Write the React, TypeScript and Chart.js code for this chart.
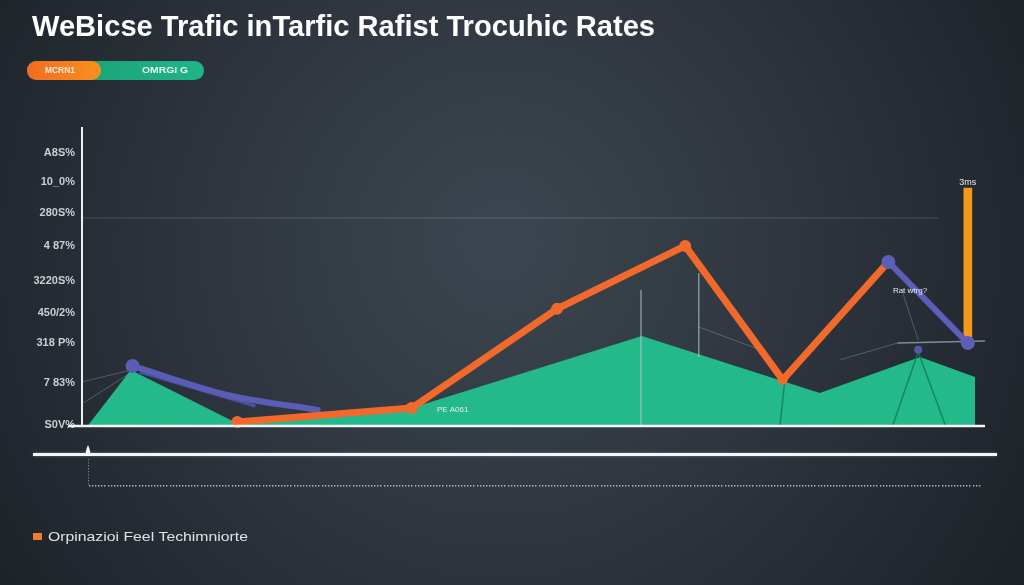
import { useEffect, useRef } from "react";
import { Chart, registerables } from "chart.js";

Chart.register(...registerables);

// ---------- data ----------
const titleText = "WeBicse Trafic inTarfic Rafist Trocuhic Rates";
const pillLabels = ["MCRN1", "OMRGI G"];
const legendText = "Orpinazioi Feel Techimniorte";

const yTickValues = [91.6, 81.8, 71.4, 60.3, 48.5, 37.7, 27.6, 14.1, 0];
const yTickLabels = ["A8S%", "10_0%", "280S%", "4 87%", "3220S%", "450/2%", "318 P%", "7 83%", "S0V%"];
const gridValue = 69.7;

const greenX = [0.7, 5.4, 16.9, 36.5, 62.0, 81.7, 92.8, 98.9, 98.9];
const greenY = [0, 18.5, 1.0, 5.7, 30.0, 10.8, 22.9, 16.2, 0];

const orangeX = [17.2, 36.5, 52.6, 66.8, 77.6, 89.3];
const orangeY = [1.0, 5.7, 39.1, 60.3, 15.2, 54.9];

const purpleAX = [5.6, 16.1, 26.1];
const purpleAY = [19.9, 10.1, 5.1];
const purpleA2X = [6.4, 19.2];
const purpleA2Y = [17.8, 6.4];

const purpleBX = [89.3, 98.1];
const purpleBY = [54.9, 27.6];

const barX = 98.1;
const barRange: [number, number] = [27.6, 79.8];
const barLabel = "3ms";

const dotX = 92.6;
const dotY = 25.3;

// light guide segments: [x1, y1, x2, y2]
const lightGuides = [
  [61.9, 45.5, 61.9, 0],
  [68.3, 51.2, 68.3, 22.9],
  [90.3, 27.6, 100, 28.3],
];
const faintGuides = [
  [0, 14.5, 5.4, 18.5],
  [0, 7.1, 5.2, 17.2],
  [90.9, 44.4, 92.6, 28.6],
  [68.3, 33.0, 75.1, 25.3],
  [84.0, 22.0, 90.3, 27.6],
];
const greenGuides = [
  [92.6, 24.6, 89.8, 0],
  [92.6, 24.6, 95.6, 0],
  [77.8, 14.0, 77.3, 0],
];

const annotations = [
  { x: 39.3, y: 5.05, text: "PE A061" },
  { x: 89.8, y: 45.1, text: "Rat wtrg?" },
];

// ---------- helpers ----------
const pts = (xs: number[], ys: number[]) => xs.map((x, i) => ({ x, y: ys[i] }));
const segs = (list: number[][]) => {
  const out: any[] = [];
  list.forEach((s, i) => {
    if (i > 0) out.push({ x: s[0], y: null });
    out.push({ x: s[0], y: s[1] });
    out.push({ x: s[2], y: s[3] });
  });
  return out;
};

function roundRect(ctx: CanvasRenderingContext2D, x: number, y: number, w: number, h: number, r: number) {
  ctx.beginPath();
  ctx.moveTo(x + r, y);
  ctx.lineTo(x + w - r, y);
  ctx.arc(x + w - r, y + r, r, -Math.PI / 2, Math.PI / 2);
  ctx.lineTo(x + r, y + h);
  ctx.arc(x + r, y + r, r, Math.PI / 2, (3 * Math.PI) / 2);
  ctx.closePath();
}

function fitText(ctx: CanvasRenderingContext2D, text: string, x: number, y: number, w: number) {
  const m = ctx.measureText(text).width;
  ctx.save();
  ctx.translate(x, y);
  ctx.scale(w / m, 1);
  ctx.fillText(text, 0, 0);
  ctx.restore();
}

const decor = {
  id: "decor",
  beforeDraw(chart: any) {
    const { ctx, width, height } = chart;
    ctx.save();
    const g = ctx.createRadialGradient(500, 240, 20, 500, 260, 640);
    g.addColorStop(0, "#3c454f");
    g.addColorStop(0.45, "#2e353e");
    g.addColorStop(1, "#1b2026");
    ctx.fillStyle = g;
    ctx.fillRect(0, 0, width, height);

    // title
    ctx.fillStyle = "#ffffff";
    ctx.font = "bold 29px 'Liberation Sans', Arial, sans-serif";
    ctx.textBaseline = "alphabetic";
    fitText(ctx, titleText, 32, 36, 623);

    // pills
    const gg = ctx.createLinearGradient(90, 0, 204, 0);
    gg.addColorStop(0, "#1aa57a");
    gg.addColorStop(1, "#21b487");
    ctx.fillStyle = gg;
    roundRect(ctx, 27, 61, 177, 19, 9.5);
    ctx.fill();
    const og = ctx.createLinearGradient(27, 0, 100, 0);
    og.addColorStop(0, "#f36b22");
    og.addColorStop(1, "#f8901c");
    ctx.fillStyle = og;
    roundRect(ctx, 27, 61, 74, 19, 9.5);
    ctx.fill();
    ctx.fillStyle = "#fbe9dc";
    ctx.font = "bold 9px 'Liberation Sans', Arial, sans-serif";
    ctx.textBaseline = "middle";
    fitText(ctx, pillLabels[0], 45, 71, 30);
    ctx.fillStyle = "#e8f7f1";
    fitText(ctx, pillLabels[1], 142, 71, 46);

    // grid line
    const ys = chart.scales.y;
    const gy = ys.getPixelForValue(gridValue);
    ctx.strokeStyle = "rgba(200,210,220,0.22)";
    ctx.lineWidth = 1;
    ctx.beginPath();
    ctx.moveTo(chart.chartArea.left, gy);
    ctx.lineTo(938, gy);
    ctx.stroke();
    ctx.restore();
  },
  afterDraw(chart: any) {
    const { ctx } = chart;
    const xs = chart.scales.x;
    const ys = chart.scales.y;
    ctx.save();
    // x axis line
    ctx.strokeStyle = "#f2f4f6";
    ctx.lineWidth = 2.5;
    ctx.beginPath();
    ctx.moveTo(68, 426);
    ctx.lineTo(985, 426);
    ctx.stroke();

    // lower line
    ctx.shadowColor = "rgba(255,255,255,0.35)";
    ctx.shadowBlur = 3;
    ctx.strokeStyle = "#f4f6f8";
    ctx.lineWidth = 3;
    ctx.beginPath();
    ctx.moveTo(33, 454.5);
    ctx.lineTo(997, 454.5);
    ctx.stroke();
    ctx.shadowBlur = 0;
    ctx.fillStyle = "#ffffff";
    ctx.beginPath();
    ctx.moveTo(88, 445);
    ctx.quadraticCurveTo(91, 452, 90.5, 456);
    ctx.lineTo(85.5, 456);
    ctx.quadraticCurveTo(85, 452, 88, 445);
    ctx.fill();

    // dotted lines
    ctx.fillStyle = "rgba(215,220,225,0.75)";
    for (let x = 89; x <= 980; x += 3.1) ctx.fillRect(Math.round(x), 485, 1.4, 1.6);
    ctx.fillStyle = "rgba(215,220,225,0.45)";
    for (let y = 459; y <= 485; y += 3) ctx.fillRect(88, y, 1, 1.5);

    // annotations
    ctx.fillStyle = "#e6eaee";
    ctx.font = "8px 'Liberation Sans', Arial, sans-serif";
    ctx.textBaseline = "middle";
    ctx.textAlign = "left";
    annotations.forEach((a) => {
      ctx.fillText(a.text, xs.getPixelForValue(a.x), ys.getPixelForValue(a.y));
    });
    ctx.textAlign = "center";
    ctx.textBaseline = "bottom";
    ctx.font = "9px 'Liberation Sans', Arial, sans-serif";
    ctx.fillText(barLabel, xs.getPixelForValue(barX), ys.getPixelForValue(barRange[1]) - 1);

    // legend
    ctx.textAlign = "left";
    ctx.fillStyle = "#f07a2e";
    ctx.fillRect(33, 533, 9, 7);
    ctx.fillStyle = "#dfe3e7";
    ctx.font = "13px 'Liberation Sans', Arial, sans-serif";
    ctx.textBaseline = "middle";
    fitText(ctx, legendText, 48, 537, 200);
    ctx.restore();
  },
};

export default function App() {
  const ref = useRef<HTMLCanvasElement>(null);
  useEffect(() => {
    if (!ref.current) return;
    const chart = new Chart(ref.current, {
      type: "line",
      data: {
        datasets: [
          {
            type: "line",
            data: pts(purpleBX, purpleBY),
            borderColor: "#5b5fb9",
            backgroundColor: "#5b5fb9",
            borderWidth: 6,
            pointRadius: 7,
            pointBorderWidth: 0,
            clip: false,
            order: 0,
          } as any,
          {
            type: "bar",
            data: [{ x: barX, y: barRange }],
            backgroundColor: "#f5971c",
            barThickness: 8,
            order: 1,
          } as any,
          {
            type: "line",
            data: pts(orangeX, orangeY),
            borderColor: "#f26a2b",
            backgroundColor: "#f26a2b",
            borderWidth: 7,
            pointRadius: [6, 6, 6, 6, 5, 0],
            pointBorderWidth: 0,
            borderJoinStyle: "round",
            clip: false,
            order: 2,
          } as any,
          {
            type: "line",
            data: pts(purpleAX, purpleAY),
            borderColor: "#5a5db6",
            backgroundColor: "#5a5db6",
            borderWidth: 6,
            pointRadius: [7, 0, 0],
            pointBorderWidth: 0,
            tension: 0.35,
            borderCapStyle: "round",
            clip: false,
            order: 3,
          } as any,
          {
            type: "line",
            data: pts(purpleA2X, purpleA2Y),
            borderColor: "#4e519e",
            borderWidth: 3,
            pointRadius: 0,
            clip: false,
            order: 4,
          } as any,
          {
            type: "line",
            data: [{ x: dotX, y: dotY }],
            borderColor: "#5558a8",
            backgroundColor: "#5558a8",
            pointRadius: 4,
            pointBorderWidth: 0,
            showLine: false,
            order: 5,
          } as any,
          {
            type: "line",
            data: segs(lightGuides),
            borderColor: "rgba(190,205,215,0.6)",
            borderWidth: 1.5,
            pointRadius: 0,
            spanGaps: false,
            order: 6,
          } as any,
          {
            type: "line",
            data: segs(faintGuides),
            borderColor: "rgba(170,180,190,0.35)",
            borderWidth: 1,
            pointRadius: 0,
            spanGaps: false,
            order: 7,
          } as any,
          {
            type: "line",
            data: segs(greenGuides),
            borderColor: "rgba(20,120,90,0.8)",
            borderWidth: 1.5,
            pointRadius: 0,
            spanGaps: false,
            order: 8,
          } as any,
          {
            type: "line",
            data: pts(greenX, greenY),
            borderWidth: 0,
            borderColor: "rgba(0,0,0,0)",
            backgroundColor: "#23b98a",
            fill: "origin",
            pointRadius: 0,
            order: 10,
          } as any,
        ],
      },
      options: {
        animation: false,
        responsive: false,
        devicePixelRatio: 1,
        layout: { padding: { left: 0, top: 128, right: 39, bottom: 160 } },
        plugins: { legend: { display: false }, tooltip: { enabled: false }, title: { display: false } },
        scales: {
          x: { type: "linear", min: 0, max: 100, display: false, offset: false },
          y: {
            type: "linear",
            min: 0,
            max: 100,
            afterFit(s: any) {
              s.width = 82;
            },
            afterBuildTicks(s: any) {
              s.ticks = yTickValues.map((v) => ({ value: v }));
            },
            grid: { display: false, drawTicks: false },
            border: { display: true, color: "#eef1f4", width: 2 },
            ticks: {
              autoSkip: false,
              padding: 7,
              color: "#c9ced3",
              font: { size: 11, family: "'Liberation Sans', Arial, sans-serif", weight: "bold" },
              callback: (v: any) => {
                const i = yTickValues.indexOf(Number(v));
                return i >= 0 ? yTickLabels[i] : "";
              },
            },
          },
        },
      } as any,
      plugins: [decor],
    });
    return () => chart.destroy();
  }, []);
  return (
    <div style={{ position: "fixed", left: 0, top: 0, width: 1024, height: 585, background: "#22282f" }}>
      <canvas ref={ref} width={1024} height={585} style={{ display: "block" }} />
    </div>
  );
}
